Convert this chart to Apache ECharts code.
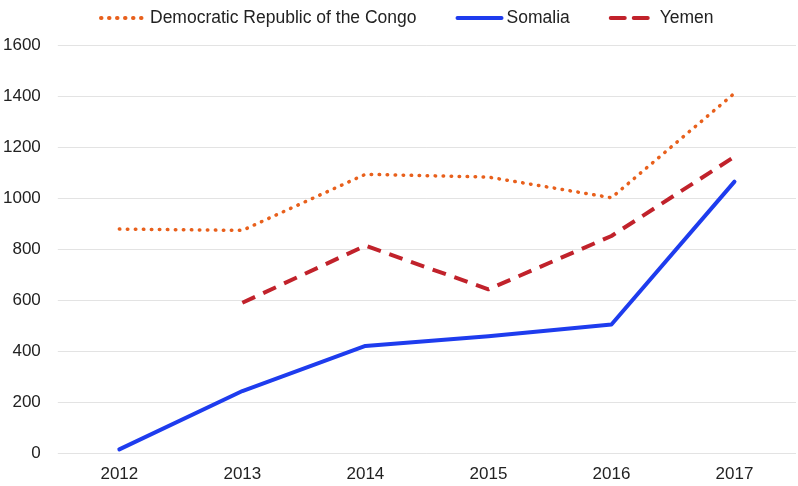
<!DOCTYPE html>
<html>
<head>
<meta charset="utf-8">
<script src="https://cdn.jsdelivr.net/npm/echarts@6/dist/echarts.min.js"></script>
<style>html,body{margin:0;padding:0;background:#fff;}#c{width:798px;height:486px;}</style>
</head>
<body>
<div id="c"></div>
<script>
var years = ['2012', '2013', '2014', '2015', '2016', '2017'];
var drc = [878, 873, 1093, 1082, 1001, 1411];
var somalia = [14, 243, 420, 458, 504, 1064];
var yemen = [null, 589, 813, 642, 851, 1162];
var yTicks = {min: 0, max: 1600, interval: 200};

var font = 'Liberation Sans, Arial, sans-serif';
var chart = echarts.init(document.getElementById('c'), null, {renderer: 'canvas'});
chart.setOption({
  animation: false,
  backgroundColor: '#ffffff',
  legend: {
    top: 4,
    left: 94,
    itemWidth: 44,
    itemHeight: 14,
    itemGap: 39,
    itemStyle: {opacity: 0},
    lineStyle: {width: 4, cap: 'round'},
    textStyle: {fontFamily: font, fontSize: 17.5, color: '#222'},
    data: ['Democratic Republic of the Congo', 'Somalia', 'Yemen']
  },
  grid: {left: 56, right: 2, top: 45, bottom: 33, containLabel: false},
  xAxis: {
    type: 'category',
    data: years,
    boundaryGap: true,
    axisLine: {show: false},
    axisTick: {show: false},
    axisLabel: {fontFamily: font, fontSize: 17, color: '#222', margin: 13}
  },
  yAxis: {
    type: 'value',
    min: yTicks.min, max: yTicks.max, interval: yTicks.interval,
    axisLine: {show: false},
    axisTick: {show: false},
    splitLine: {lineStyle: {color: '#e3e3e3', width: 1}},
    axisLabel: {fontFamily: font, fontSize: 17, color: '#222', margin: 17,
      formatter: function (v) { return String(v); }}
  },
  series: [
    {
      name: 'Democratic Republic of the Congo', type: 'line', data: drc,
      symbol: 'none',
      lineStyle: {color: '#E8601C', width: 3.5, type: [0.5, 7.5], cap: 'round', join: 'round'},
      itemStyle: {color: '#E8601C'}
    },
    {
      name: 'Somalia', type: 'line', data: somalia,
      symbol: 'none',
      lineStyle: {color: '#1E3CEE', width: 4, cap: 'round', join: 'round'},
      itemStyle: {color: '#1E3CEE'}
    },
    {
      name: 'Yemen', type: 'line', data: yemen,
      symbol: 'none',
      lineStyle: {color: '#C1222B', width: 4, type: [14, 9], cap: 'butt'},
      itemStyle: {color: '#C1222B'}
    }
  ]
});
</script>
</body>
</html>
